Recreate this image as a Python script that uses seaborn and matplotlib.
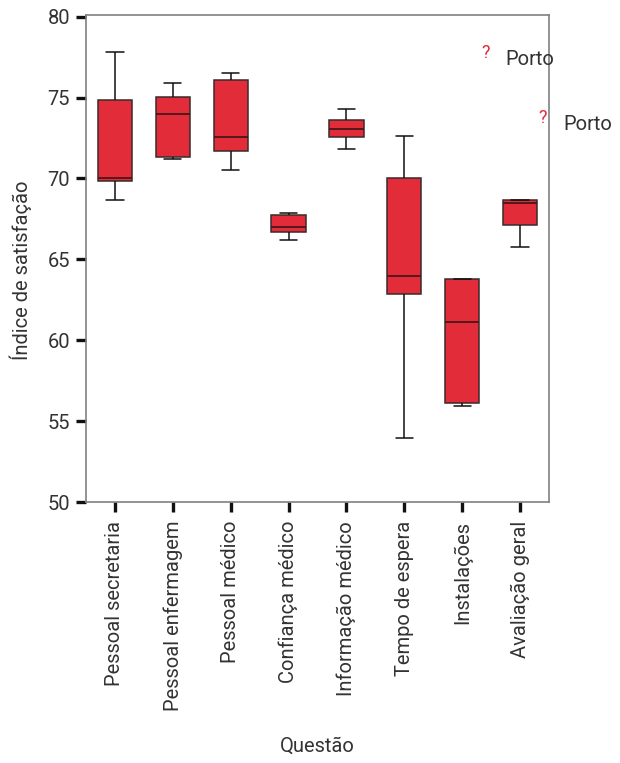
import numpy as np
import pandas as pd
import matplotlib
matplotlib.use("Agg")
import matplotlib.pyplot as plt
import seaborn as sns

categories = ["Pessoal secretaria", "Pessoal enfermagem", "Pessoal médico",
              "Confiança médico", "Informação médico", "Tempo de espera",
              "Instalações", "Avaliação geral"]
whisker_low = [68.68, 71.19, 70.55, 66.18, 71.81, 53.94, 55.94, 65.75]
q1 = [69.83, 71.32, 71.71, 66.70, 72.55, 62.84, 56.12, 67.11]
median = [70.02, 74.00, 72.55, 66.99, 73.07, 63.98, 61.15, 68.49]
q3 = [74.86, 75.05, 76.10, 67.71, 73.58, 70.02, 63.77, 68.68]
whisker_high = [77.79, 75.89, 76.51, 67.85, 74.32, 72.65, 63.77, 68.68]

outlier_cat = ["Instalações", "Avaliação geral"]
outlier_val = [77.95, 73.93]
outlier_lab = ["Porto", "Porto"]

yticks = [50, 55, 60, 65, 70, 75, 80]

rows = []
for c, a, b, m, d, e in zip(categories, whisker_low, q1, median, q3, whisker_high):
    for v in (a, b, m, d, e):
        rows.append({"Questão": c, "Índice de satisfação": v})
df = pd.DataFrame(rows)

sns.set_style("white")
plt.rcParams["font.family"] = ["Roboto", "DejaVu Sans"]

RED = "#E32C39"
TXT = "#333333"
FS = 14.5
fig = plt.figure(figsize=(6.2, 7.63), dpi=100)
ax = fig.add_axes([86/620, 1-502/763, (549-86)/620, (502-15)/763])

sns.boxplot(data=df, x="Questão", y="Índice de satisfação", order=categories,
            color=RED, saturation=1, width=0.59, whis=np.inf, ax=ax,
            linewidth=1.1, linecolor="#2a2222",
            medianprops=dict(color="#4a1518", linewidth=1.3),
            capprops=dict(color="#111111", linewidth=1.1),
            whiskerprops=dict(color="#111111", linewidth=1.1),
            boxprops=dict(edgecolor="#3a2a2a"),
            showfliers=False, capwidths=0.3)

for c, v, lab in zip(outlier_cat, outlier_val, outlier_lab):
    xi = categories.index(c)
    ax.annotate("?", xy=(xi, v), xytext=(23, -3), textcoords="offset pixels",
                color=RED, fontsize=13, ha="center", va="center")
    ax.annotate(lab, xy=(xi, v), xytext=(43, -10), textcoords="offset pixels",
                color=TXT, fontsize=FS, ha="left", va="center")

ax.set_xlim(-0.5, len(categories) - 0.5)
ax.set_ylim(50, 80.1)
ax.set_yticks(yticks)
ax.set_yticklabels([str(t) for t in yticks])
ax.tick_params(axis="both", which="both", direction="out", length=7.5, width=2.4,
               color="#111111", labelcolor=TXT, labelsize=FS, pad=4,
               left=True, bottom=True)
ax.tick_params(axis="x", labelrotation=90, pad=6)
for s in ax.spines.values():
    s.set_color("#808080")
    s.set_linewidth(1.2)
    s.set_visible(True)

ax.set_xlabel("Questão", fontsize=FS, color=TXT, labelpad=18)
ax.set_ylabel("Índice de satisfação", fontsize=FS, color=TXT)
ax.yaxis.set_label_coords(-54/463, (502-270)/487)

fig.savefig("out.png", dpi=100)
